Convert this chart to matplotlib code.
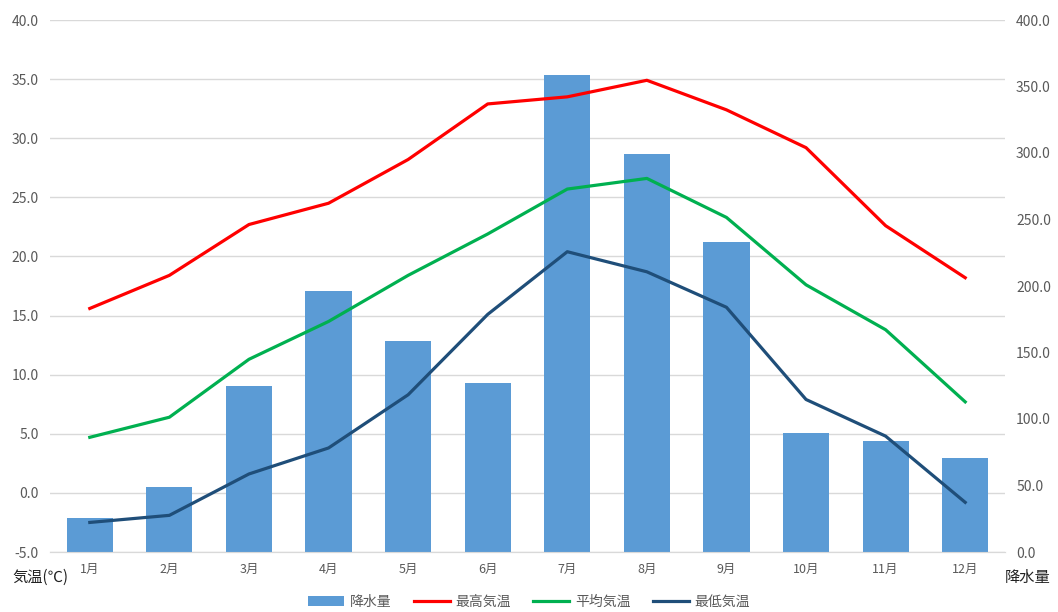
import matplotlib.pyplot as plt

plt.rcParams['font.family'] = ['Noto Sans CJK JP', 'DejaVu Sans']

months = ['1月', '2月', '3月', '4月', '5月', '6月', '7月', '8月', '9月', '10月', '11月', '12月']
rain = [25.6, 48.9, 124.8, 196.2, 158.6, 127.0, 358.6, 299.2, 233.0, 89.5, 83.5, 70.7]
t_max = [15.6, 18.4, 22.7, 24.5, 28.2, 32.9, 33.5, 34.9, 32.4, 29.2, 22.6, 18.2]
t_avg = [4.7, 6.4, 11.3, 14.5, 18.4, 21.9, 25.7, 26.6, 23.3, 17.6, 13.8, 7.7]
t_min = [-2.5, -1.9, 1.6, 3.8, 8.3, 15.1, 20.4, 18.7, 15.7, 7.9, 4.8, -0.8]

fig = plt.figure(figsize=(10.58, 6.12), dpi=100)
rect = [50 / 1058, 60 / 612, 955 / 1058, 532 / 612]
# bottom layer: temperature ticks + grid
ax_t = fig.add_axes(rect)
# middle layer: precipitation bars
ax_r = ax_t.twinx()
# top layer: temperature lines
ax_l = fig.add_axes(rect, sharex=ax_t, sharey=ax_t)
ax_t.set_zorder(0)
ax_r.set_zorder(1)
ax_l.set_zorder(2)
ax_r.patch.set_visible(False)
ax_l.patch.set_visible(False)
ax_l.axis('off')

x = range(len(months))
bars = ax_r.bar(x, rain, width=0.58, color='#5B9BD5', label='降水量')
ax_r.set_ylim(0, 400)
ax_r.set_yticks(range(0, 401, 50))
ax_r.set_yticklabels([f'{v:.1f}' for v in range(0, 401, 50)])

l1, = ax_l.plot(x, t_max, color='#FF0000', lw=2.3, label='最高気温')
l2, = ax_l.plot(x, t_avg, color='#00B050', lw=2.3, label='平均気温')
l3, = ax_l.plot(x, t_min, color='#1F4E79', lw=2.3, label='最低気温')
ax_t.set_ylim(-5, 40)
ax_t.set_yticks(range(-5, 41, 5))
ax_t.set_yticklabels([f'{v:.1f}' for v in range(-5, 41, 5)])
ax_t.grid(axis='y', color='#D9D9D9', linewidth=1)
ax_t.set_xlim(-0.5, len(months) - 0.5)
ax_t.set_xticks(list(x))
ax_t.set_xticklabels(months)

for ax in (ax_t, ax_r):
    for s in ('top', 'left', 'right'):
        ax.spines[s].set_visible(False)
    ax.spines['bottom'].set_color('#D9D9D9')
    ax.tick_params(length=0, colors='#595959', labelsize=10)
ax_t.tick_params(axis='x', labelsize=9, pad=8)
ax_t.tick_params(axis='y', pad=8)
ax_r.tick_params(axis='y', pad=8)

fig.text(12 / 1058, 1 - 577 / 612, '気温(℃)', fontsize=11, va='center', ha='left', color='#222222')
fig.text(1005 / 1058, 1 - 577 / 612, '降水量', fontsize=11, va='center', ha='left', color='#222222')

fig.legend(handles=[bars, l1, l2, l3], loc='center', bbox_to_anchor=(0.5, 1 - 602 / 612),
           ncol=4, frameon=False, fontsize=10, labelcolor='#595959',
           handlelength=2.6, columnspacing=1.6, handletextpad=0.4)

fig.savefig('out.png', dpi=100)
